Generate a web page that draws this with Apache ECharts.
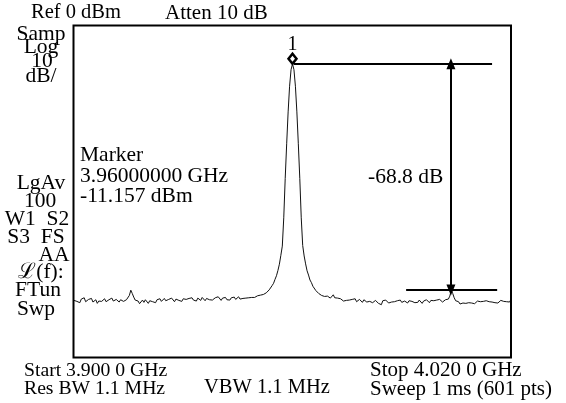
<!DOCTYPE html>
<html><head><meta charset="utf-8">
<script src="https://cdn.jsdelivr.net/npm/echarts@6/dist/echarts.min.js"></script>
<style>html,body{margin:0;padding:0;background:#fff}#c{width:566px;height:403px}</style>
</head><body><div id="c"></div>
<script>
// Sweep settings
const startGHz = 3.900, stopGHz = 4.020;
const refLevelDbm = 0, scaleDbPerDiv = 10, divisions = 10;
// Trace levels (dBm), 301 sweep points
const levelsDbm = [
-83.1,-82.6,-83.4,-82.9,-83.8,-82.7,-83.0,-82.3,-83.5,-83.9,
-82.8,-83.2,-82.5,-83.6,-83.1,-82.9,-84.0,-83.3,-82.7,-83.4,
-83.0,-82.6,-83.5,-83.8,-82.9,-83.1,-82.4,-83.3,-83.7,-82.8,
-83.2,-83.6,-82.9,-82.5,-83.4,-83.0,-82.9,-82.6,-81.6,-80.0,
-81.0,-82.1,-83.0,-83.6,-83.3,-84.1,-83.5,-83.0,-83.7,-82.9,
-83.4,-84.0,-83.2,-82.8,-83.5,-83.1,-83.8,-82.9,-83.3,-82.6,
-83.4,-83.0,-82.5,-83.2,-83.7,-82.8,-83.1,-82.4,-83.0,-83.5,
-82.7,-82.2,-83.1,-82.9,-83.4,-82.6,-82.0,-82.8,-83.2,-82.5,
-82.9,-82.3,-83.0,-82.6,-83.3,-82.4,-82.8,-83.1,-82.2,-82.7,
-83.2,-82.5,-82.1,-82.9,-82.4,-83.0,-82.6,-82.3,-82.8,-82.0,
-82.6,-83.1,-82.4,-82.7,-82.2,-82.9,-82.5,-83.0,-82.3,-82.6,
-82.1,-82.8,-82.4,-82.0,-82.7,-82.3,-82.5,-81.9,-82.4,-82.1,
-82.3,-81.8,-82.2,-81.9,-82.2,-81.9,-81.7,-82.0,-81.5,-81.7,
-81.3,-81.4,-80.8,-80.6,-79.9,-79.6,-78.6,-77.9,-76.7,-75.6,
-74.0,-72.1,-69.4,-66.6,-58.0,-46.0,-35.5,-25.8,-18.0,-13.0,
-11.2,
-13.0,-18.0,-25.8,-35.5,-46.0,-58.0,-66.4,-69.6,-72.0,
-74.1,-75.4,-76.9,-77.7,-78.8,-79.4,-80.1,-80.4,-81.0,-81.2,
-81.6,-81.5,-81.9,-82.2,-81.8,-82.3,-82.4,-82.0,-81.4,-82.3,
-82.7,-82.4,-83.0,-82.6,-82.9,-83.3,-82.7,-83.1,-82.5,-83.0,
-83.4,-82.8,-83.2,-82.6,-83.5,-83.0,-82.8,-83.3,-83.7,-82.9,
-83.2,-83.6,-83.0,-83.4,-82.9,-83.8,-83.3,-83.1,-83.6,-84.0,
-83.4,-84.4,-83.2,-83.7,-83.0,-83.5,-83.9,-83.3,-83.6,-83.1,
-83.5,-83.8,-83.2,-83.6,-83.0,-83.7,-84.1,-83.3,-83.5,-83.9,
-83.2,-83.6,-83.4,-82.9,-83.8,-83.3,-83.7,-83.0,-83.5,-84.0,
-83.3,-83.6,-82.9,-83.4,-83.8,-83.1,-83.5,-83.2,-83.7,-83.0,
-83.4,-82.8,-83.3,-83.6,-83.1,-82.9,-83.3,-82.7,-81.8,-80.0,
-81.0,-82.3,-83.2,-83.8,-83.5,-84.2,-83.6,-83.9,-83.3,-84.0,
-83.5,-83.8,-83.2,-83.9,-83.4,-84.1,-83.6,-83.3,-83.9,-83.5,
-84.0,-83.4,-83.7,-83.2,-83.8,-83.5,-84.1,-83.6,-83.3,-83.8,
-83.4,-83.9,-83.5,-83.1,-83.7,-83.4,-83.9,-83.5,-83.2,-83.6,
-82.8
];
// Marker readout
const markerFreqGHz = 3.96, markerLevelDbm = -11.157;
const deltaDb = -68.8;
const deltaFreqGHz = 4.0035;
const refLineSpanGHz = [3.9604, 4.0148];
const deltaLineSpanGHz = [3.9912, 4.0162];
// Annotation texts
const topTexts = ['Ref 0 dBm', 'Atten 10 dB'];
const leftTexts = ['Samp', 'Log', '10', 'dB/', 'LgAv', '100', 'W1  S2', 'S3  FS', 'AA', 'ℒ(f):', 'FTun', 'Swp'];
const markerTexts = ['Marker', '3.96000000 GHz', '-11.157 dBm'];
const bottomTexts = ['Start 3.900 0 GHz', 'Res BW 1.1 MHz', 'VBW 1.1 MHz', 'Stop 4.020 0 GHz', 'Sweep 1 ms (601 pts)'];

const n = levelsDbm.length;
const trace = levelsDbm.map((v, i) => [startGHz + i * (stopGHz - startGHz) / (n - 1), v]);
const deltaLevel = markerLevelDbm + deltaDb;

const FONT = '"Liberation Serif","Times New Roman",serif';
function txt(text, x, y, align, size) {
  return { type: 'text', x: x, y: y, style: { text: text, fill: '#000', font: (size || 21) + 'px ' + FONT, textAlign: align || 'left', textVerticalAlign: 'middle' } };
}
const leftPos = [[41,34],[41,47],[42,61],[41,76],[41,183],[40,201],[37,219],[36,237],[54,255],[41,272],[38,290],[36,309]];
const graphics = [
  { type: 'rect', shape: { x: 73.5, y: 25.5, width: 437.5, height: 332 }, style: { fill: 'none', stroke: '#000', lineWidth: 2 }, z: 10 },
  txt(topTexts[0], 31, 13, 'left', 20.5), txt(topTexts[1], 165, 13, 'left', 21),
  ...leftTexts.map((t, i) => txt(t, leftPos[i][0], leftPos[i][1], 'center', 21.5)),
  txt(markerTexts[0], 80, 155, 'left', 21.5), txt(markerTexts[1], 80, 176, 'left', 21.5), txt(markerTexts[2], 80, 196, 'left', 21.5),
  txt(deltaDb.toFixed(1) + ' dB', 368, 177, 'left', 21.5),
  txt(bottomTexts[0], 24, 371, 'left', 19.7), txt(bottomTexts[1], 24, 389, 'left', 19.7), txt(bottomTexts[2], 204, 388, 'left', 20.5),
  txt(bottomTexts[3], 370, 370, 'left', 21), txt(bottomTexts[4], 370, 389, 'left', 21)
];

const chart = echarts.init(document.getElementById('c'), null, { renderer: 'canvas' });
chart.setOption({
  backgroundColor: '#fff',
  animation: false,
  grid: { left: 74, right: 55, top: 27, bottom: 47, show: false },
  xAxis: { type: 'value', min: startGHz, max: stopGHz, show: false },
  yAxis: { type: 'value', min: refLevelDbm - scaleDbPerDiv * divisions, max: refLevelDbm, show: false },
  series: [{
    type: 'line', data: trace, showSymbol: false, symbol: 'none',
    lineStyle: { color: '#111', width: 1 },
    markPoint: {
      symbol: 'diamond', symbolSize: [8, 10], symbolOffset: [0, -5],
      itemStyle: { color: '#fff', borderColor: '#000', borderWidth: 2.5 },
      label: { show: true, position: 'top', distance: -2, formatter: '1', color: '#000', fontSize: 20, fontFamily: FONT },
      data: [{ coord: [markerFreqGHz, markerLevelDbm] }]
    },
    markLine: {
      silent: true, animation: false,
      label: { show: false },
      lineStyle: { color: '#000', width: 2, type: 'solid' },
      symbol: ['none', 'none'],
      data: [
        [{ coord: [refLineSpanGHz[0], markerLevelDbm] }, { coord: [refLineSpanGHz[1], markerLevelDbm] }],
        [{ coord: [deltaLineSpanGHz[0], deltaLevel] }, { coord: [deltaLineSpanGHz[1], deltaLevel] }],
        [{ coord: [deltaFreqGHz, markerLevelDbm], symbol: 'triangle', symbolSize: [9, 11] },
         { coord: [deltaFreqGHz, deltaLevel], symbol: 'triangle', symbolSize: [9, 11] }]
      ]
    }
  }],
  graphic: graphics
});
</script></body></html>
